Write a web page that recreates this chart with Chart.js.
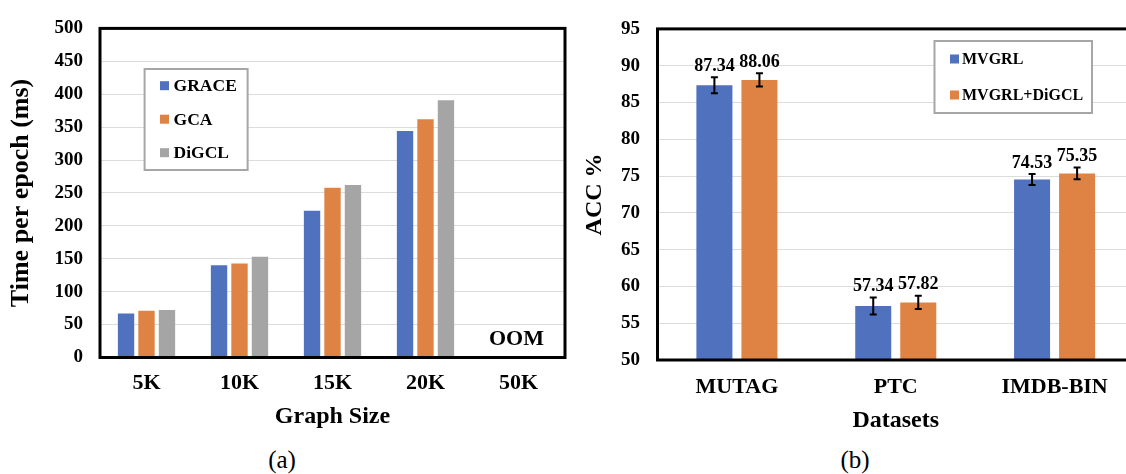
<!DOCTYPE html>
<html>
<head>
<meta charset="utf-8">
<script src="https://cdn.jsdelivr.net/npm/chart.js@4.4.0/dist/chart.umd.min.js"></script>
<style>
  html, body { margin: 0; padding: 0; background: #fff; overflow: hidden; width: 1126px; height: 474px; }
  #tempo { position: absolute; left: 0; top: 0; }
  #acc { position: absolute; left: 570px; top: 0; }
  .rotulo { position: absolute; top: 446px; line-height: 28px; font: 25px "Liberation Serif", serif; transform: translateX(-50%); }
</style>
</head>
<body>
<canvas id="tempo" width="580" height="440"></canvas>
<canvas id="acc" width="600" height="440"></canvas>
<div class="rotulo" style="left:282px">(a)</div>
<div class="rotulo" style="left:855px">(b)</div>

<script>
// (a) tempo por época x tamanho do grafo
const tamanhos = ['5K', '10K', '15K', '20K', '50K'];
const tempoGrace = [67, 140, 223, 344, null];
const tempoGca = [71, 143, 258, 362, null];
const tempoDigcl = [72, 153, 262, 391, null];

// (b) acurácia por dataset
const datasetsNomes = ['MUTAG', 'PTC', 'IMDB-BIN'];
const accMvgrl = [87.34, 57.34, 74.53];
const accMvgrlDigcl = [88.06, 57.82, 75.35];
const erroMvgrl = [1.1, 1.15, 0.75];
const erroMvgrlDigcl = [0.9, 0.9, 0.8];

const AZUL = '#5072BE';
const LARANJA = '#DF8344';
const CINZA = '#A5A5A5';
const FONTE = '"Liberation Serif", "Times New Roman", serif';

Chart.defaults.font.family = FONTE;
Chart.defaults.color = '#000';

// moldura preta em volta da área do gráfico
const moldura = {
  id: 'moldura',
  afterDraw(chart) {
    const { ctx, chartArea: a } = chart;
    ctx.save();
    ctx.strokeStyle = '#000';
    ctx.lineWidth = 3;
    ctx.strokeRect(a.left, a.top, a.right - a.left, a.bottom - a.top);
    ctx.restore();
  }
};

// legenda em caixa, desenhada dentro do gráfico
const caixaLegenda = {
  id: 'caixaLegenda',
  afterDraw(chart, args, opts) {
    const ctx = chart.ctx;
    ctx.save();
    ctx.fillStyle = '#fff';
    ctx.fillRect(opts.x, opts.y, opts.w, opts.h);
    ctx.strokeStyle = '#a6a6a6';
    ctx.lineWidth = 2;
    ctx.strokeRect(opts.x, opts.y, opts.w, opts.h);
    ctx.font = 'bold ' + opts.tamanho + 'px ' + FONTE;
    ctx.textBaseline = 'middle';
    ctx.textAlign = 'left';
    chart.data.datasets.forEach((ds, i) => {
      const y = opts.y + opts.primeira + i * opts.passo;
      ctx.fillStyle = ds.backgroundColor;
      ctx.fillRect(opts.x + opts.marca, y - 4.5, 9, 9);
      ctx.fillStyle = '#000';
      ctx.fillText(ds.label, opts.x + opts.marca + opts.texto, y + 1);
    });
    ctx.restore();
  }
};

// escreve OOM nas categorias sem nenhum valor
const semMemoria = {
  id: 'semMemoria',
  afterDatasetsDraw(chart) {
    const { ctx, chartArea: a } = chart;
    const x = chart.scales.x;
    ctx.save();
    ctx.font = 'bold 22px ' + FONTE;
    ctx.textAlign = 'center';
    ctx.textBaseline = 'middle';
    ctx.fillStyle = '#000';
    chart.data.labels.forEach((lab, i) => {
      const vazio = chart.data.datasets.every(ds => ds.data[i] == null);
      if (vazio) ctx.fillText('OOM', x.getPixelForValue(i) - 2, a.bottom - 18);
    });
    ctx.restore();
  }
};

// barras de erro + valor em cima
const barrasErro = {
  id: 'barrasErro',
  afterDatasetsDraw(chart) {
    const ctx = chart.ctx;
    const y = chart.scales.y;
    ctx.save();
    chart.data.datasets.forEach((ds, i) => {
      if (!ds.erros) return;
      chart.getDatasetMeta(i).data.forEach((bar, j) => {
        const v = ds.data[j];
        const e = ds.erros[j];
        const topo = y.getPixelForValue(v + e);
        const base = y.getPixelForValue(v - e);
        ctx.strokeStyle = '#000';
        ctx.lineWidth = 2;
        ctx.beginPath();
        ctx.moveTo(bar.x, topo); ctx.lineTo(bar.x, base);
        ctx.moveTo(bar.x - 3.5, topo); ctx.lineTo(bar.x + 3.5, topo);
        ctx.moveTo(bar.x - 3.5, base); ctx.lineTo(bar.x + 3.5, base);
        ctx.stroke();
        ctx.fillStyle = '#000';
        ctx.font = 'bold 18px ' + FONTE;
        ctx.textAlign = 'center';
        ctx.textBaseline = 'middle';
        ctx.fillText(v.toFixed(2), bar.x, topo - 11);
      });
    });
    ctx.restore();
  }
};

function fonte(tam) {
  return { family: FONTE, size: tam, weight: 'bold' };
}

new Chart(document.getElementById('tempo'), {
  type: 'bar',
  data: {
    labels: tamanhos,
    datasets: [
      { label: 'GRACE', data: tempoGrace, backgroundColor: AZUL },
      { label: 'GCA', data: tempoGca, backgroundColor: LARANJA },
      { label: 'DiGCL', data: tempoDigcl, backgroundColor: CINZA }
    ]
  },
  options: {
    responsive: false,
    animation: false,
    devicePixelRatio: 1,
    barPercentage: 0.8,
    categoryPercentage: 0.66,
    layout: { padding: { top: 18.5, right: 15, bottom: 8.5, left: 0 } },
    plugins: {
      legend: { display: false },
      tooltip: { enabled: false },
      caixaLegenda: { x: 144.6, y: 69, w: 103, h: 101, primeira: 16.7, passo: 33.5, marca: 15.4, texto: 13.6, tamanho: 17.5 }
    },
    scales: {
      x: {
        grid: { display: false },
        border: { display: false },
        ticks: { color: '#000', font: fonte(22), padding: 5 },
        title: { display: true, text: 'Graph Size', color: '#000', font: fonte(24), padding: 0 },
        afterFit: s => { s.height = 74; }
      },
      y: {
        min: 0,
        max: 500,
        ticks: { stepSize: 50, color: '#000', font: fonte(19), padding: 17 },
        grid: { color: '#dcdcdc', lineWidth: 1, drawTicks: false },
        border: { display: false },
        title: { display: true, text: 'Time per epoch (ms)', color: '#000', font: fonte(26), padding: { top: 5.4, bottom: 0 } },
        afterFit: s => { s.width = 100; }
      }
    }
  },
  plugins: [semMemoria, moldura, caixaLegenda]
});

new Chart(document.getElementById('acc'), {
  type: 'bar',
  data: {
    labels: datasetsNomes,
    datasets: [
      { label: 'MVGRL', data: accMvgrl, erros: erroMvgrl, backgroundColor: AZUL },
      { label: 'MVGRL+DiGCL', data: accMvgrlDigcl, erros: erroMvgrlDigcl, backgroundColor: LARANJA }
    ]
  },
  options: {
    responsive: false,
    animation: false,
    devicePixelRatio: 1,
    barPercentage: 0.8,
    categoryPercentage: 0.567,
    layout: { padding: { top: 21.3, right: 36, bottom: 5, left: 0 } },
    plugins: {
      legend: { display: false },
      tooltip: { enabled: false },
      caixaLegenda: { x: 364.5, y: 41, w: 157.5, h: 72, primeira: 18, passo: 36, marca: 15.5, texto: 12, tamanho: 16 }
    },
    scales: {
      x: {
        grid: { display: false },
        border: { display: false },
        ticks: { color: '#000', font: fonte(22), padding: 6.5 },
        title: { display: true, text: 'Datasets', color: '#000', font: fonte(24), padding: 0 },
        afterFit: s => { s.height = 75; }
      },
      y: {
        min: 50,
        max: 95,
        ticks: { stepSize: 5, color: '#000', font: fonte(19), padding: 17.5 },
        grid: { color: '#dcdcdc', lineWidth: 1, drawTicks: false },
        border: { display: false },
        title: { display: true, text: 'ACC %', color: '#000', font: fonte(24), padding: { top: 10.6, bottom: 0 } },
        afterFit: s => { s.width = 87.5; }
      }
    }
  },
  plugins: [barrasErro, moldura, caixaLegenda]
});
</script>
</body>
</html>
